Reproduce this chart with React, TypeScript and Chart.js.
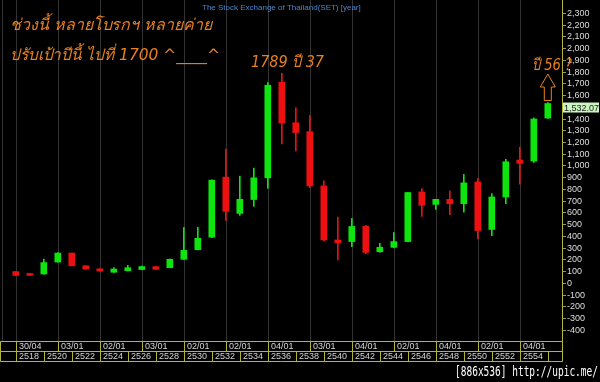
import React, { useEffect, useRef } from 'react';
import { Chart, registerables } from 'chart.js';
Chart.register(...registerables);

// Buddhist-era years, one yearly candle each
const years = [2518, 2519, 2520, 2521, 2522, 2523, 2524, 2525, 2526, 2527, 2528, 2529, 2530, 2531, 2532, 2533, 2534, 2535, 2536, 2537, 2538, 2539, 2540, 2541, 2542, 2543, 2544, 2545, 2546, 2547, 2548, 2549, 2550, 2551, 2552, 2553, 2554, 2555, 2556];
const opens = [100, 84, 80, 182, 258, 150, 124, 95, 108, 118, 142, 134, 205, 287, 393, 905, 596, 714, 899, 1714, 1368, 1293, 830, 370, 356, 487, 270, 307, 356, 779, 673, 716, 679, 864, 459, 736, 1051, 1042, 1408];
const highs = [100, 84, 207, 262, 258, 150, 124, 135, 153, 148, 145, 208, 476, 478, 882, 1145, 913, 982, 1711, 1789, 1496, 1430, 873, 564, 553, 493, 341, 433, 776, 808, 716, 787, 928, 894, 765, 1057, 1160, 1410, 1540];
const lows = [68, 68, 78, 180, 148, 120, 103, 92, 106, 116, 118, 132, 203, 285, 390, 536, 579, 656, 810, 1188, 1128, 815, 360, 199, 313, 253, 264, 302, 354, 570, 630, 585, 607, 379, 407, 679, 845, 1030, 1405];
const closes = [68, 68, 177, 258, 150, 122, 105, 122, 133, 143, 120, 205, 281, 384, 879, 613, 716, 899, 1688, 1365, 1285, 830, 370, 345, 485, 264, 307, 356, 774, 665, 716, 679, 856, 450, 736, 1036, 1022, 1400, 1532.07];

const yTicks = [-400, -300, -200, -100, 0, 100, 200, 300, 400, 500, 600, 700, 800, 900, 1000, 1100, 1200, 1300, 1400, 1500, 1600, 1700, 1800, 1900, 2000, 2100, 2200, 2300];
const gridYears = [2518, 2521, 2524, 2527, 2530, 2533, 2536, 2539, 2542, 2545, 2548, 2551, 2554];
const dateLabels = ['30/04', '03/01', '02/01', '03/01', '02/01', '02/01', '04/01', '03/01', '04/01', '02/01', '04/01', '02/01', '04/01'];
const yearLabels = [2518, 2520, 2522, 2524, 2526, 2528, 2530, 2532, 2534, 2536, 2538, 2540, 2542, 2544, 2546, 2548, 2550, 2552, 2554, 2556];
const lastPrice = 1532.07;
const title = 'The Stock Exchange of Thailand(SET) [year]';
const note1 = 'ช่วงนี้ หลายโบรกฯ หลายค่าย';
const note2 = 'ปรับเป้าปีนี้ ไปที่ 1700 ^____^';
const notePeak = '1789 ปี 37';
const noteNow = 'ปี 56 ?';
const watermark = '[886x536] http://upic.me/';

const GREEN = '#0ee40e';
const RED = '#ee1010';
const ORANGE = '#e8801f';
const OLIVE = '#b4b43a';

export default function App() {
  const ref = useRef<HTMLCanvasElement>(null);
  useEffect(() => {
    document.body.style.margin = '0';
    document.body.style.background = '#000';
    const bodies = years.map((yr, i) => ({ x: yr, y: [opens[i], closes[i]] }));
    const wicks = years.map((yr, i) => ({ x: yr, y: [lows[i], highs[i]] }));
    const colors = years.map((_, i) => (closes[i] >= opens[i] ? GREEN : RED));

    const overlay = {
      id: 'overlay',
      beforeDraw(chart: any) {
        const ctx = chart.ctx;
        ctx.save();
        ctx.fillStyle = '#000';
        ctx.fillRect(0, 0, chart.width, chart.height);
        ctx.restore();
      },
      beforeDatasetsDraw(chart: any) {
        const ctx = chart.ctx;
        const xs = chart.scales.x;
        const area = chart.chartArea;
        ctx.save();
        ctx.strokeStyle = '#333333';
        ctx.lineWidth = 1;
        const lines = [area.left + 0.5, ...gridYears.map((g) => Math.round(xs.getPixelForValue(g)) + 0.5)];
        lines.forEach((x) => {
          ctx.beginPath();
          ctx.moveTo(x, area.top);
          ctx.lineTo(x, area.bottom);
          ctx.stroke();
        });
        ctx.restore();
      },
      afterDraw(chart: any) {
        const ctx = chart.ctx;
        const xs = chart.scales.x;
        const ys = chart.scales.y;
        const area = chart.chartArea;
        ctx.save();
        // bottom date / year boxes
        const top = Math.round(area.bottom) + 0.5;
        const mid = top + 10;
        const bot = mid + 10;
        const right = Math.round(area.right) + 0.5;
        ctx.strokeStyle = OLIVE;
        ctx.lineWidth = 1;
        [top, mid, bot].forEach((y) => {
          ctx.beginPath();
          ctx.moveTo(0.5, y);
          ctx.lineTo(right, y);
          ctx.stroke();
        });
        const vline = (x: number, y0: number, y1: number) => {
          ctx.beginPath();
          ctx.moveTo(x, y0);
          ctx.lineTo(x, y1);
          ctx.stroke();
        };
        vline(0.5, top, bot);
        vline(right, top, bot);
        ctx.font = '9px Arial, "Liberation Sans", sans-serif';
        ctx.fillStyle = '#d4d4d4';
        ctx.textBaseline = 'middle';
        ctx.textAlign = 'left';
        gridYears.forEach((g, i) => {
          const x = Math.round(xs.getPixelForValue(g)) + 0.5;
          vline(x, top, mid);
          ctx.fillText(dateLabels[i], x + 2.5, top + 5.5);
        });
        yearLabels.forEach((g) => {
          const x = Math.round(xs.getPixelForValue(g)) + 0.5;
          vline(x, mid, bot);
          if (g <= 2554) ctx.fillText(String(g), x + 2.5, mid + 5.5);
        });

        // last price tag
        const py = ys.getPixelForValue(lastPrice);
        ctx.fillStyle = '#ccf5c0';
        ctx.fillRect(area.right + 1, py - 1, 36, 10);
        ctx.fillStyle = '#1a1a1a';
        ctx.fillText('1,532.07', area.right + 2, py + 4.5);

        // title
        ctx.font = '8px Arial, "Liberation Sans", sans-serif';
        ctx.fillStyle = '#4a86d0';
        ctx.textBaseline = 'alphabetic';
        ctx.fillText(title, 202, 10, 160);

        // annotations
        ctx.fillStyle = ORANGE;
        ctx.font = 'italic 16px Tahoma, "DejaVu Sans", "Noto Sans", sans-serif';
        ctx.fillText(note1, 10, 30, 202);
        ctx.fillText(note2, 10, 60, 210);
        ctx.fillText(notePeak, 251, 67, 73);
        ctx.fillText(noteNow, 532, 70, 40);

        // hollow up arrow above the last candle
        const ax = xs.getPixelForValue(2556);
        ctx.strokeStyle = ORANGE;
        ctx.beginPath();
        ctx.moveTo(ax, 74);
        ctx.lineTo(ax + 7.5, 87);
        ctx.lineTo(ax + 3.5, 87);
        ctx.lineTo(ax + 3.5, 100.5);
        ctx.lineTo(ax - 3.5, 100.5);
        ctx.lineTo(ax - 3.5, 87);
        ctx.lineTo(ax - 7.5, 87);
        ctx.closePath();
        ctx.stroke();

        // watermark
        ctx.fillStyle = '#ffffff';
        ctx.font = '14px "DejaVu Sans Mono", monospace';
        ctx.fillText(watermark, 455, 376, 143);
        ctx.restore();
      },
    };

    const chart = new Chart(ref.current as HTMLCanvasElement, {
      type: 'bar',
      data: {
        datasets: [
          { data: bodies as any, backgroundColor: colors, barThickness: 6, grouped: false, borderWidth: 0 } as any,
          { data: wicks as any, backgroundColor: colors, barThickness: 1, grouped: false, borderWidth: 0 } as any,
        ],
      },
      options: {
        responsive: false,
        animation: false,
        maintainAspectRatio: false,
        layout: { padding: { left: 2, right: 0, top: 0, bottom: 41 } },
        plugins: { legend: { display: false }, tooltip: { enabled: false }, title: { display: false } },
        scales: {
          x: { type: 'linear', display: false, offset: false, grid: { offset: false }, min: 2517.014, max: 2557.014 },
          y: {
            position: 'right',
            min: -491,
            max: 2414,
            afterBuildTicks: (s: any) => {
              s.ticks = yTicks.map((v) => ({ value: v }));
            },
            afterFit: (s: any) => {
              s.width = 38;
              s.paddingTop = 0;
              s.paddingBottom = 0;
            },
            grid: { drawOnChartArea: false, color: '#9a9a40', tickLength: 4 },
            border: { color: OLIVE },
            ticks: {
              color: '#dedede',
              padding: 1,
              autoSkip: false,
              font: { family: 'Arial, "Liberation Sans", sans-serif', size: 9 },
              callback: (v: any) => Number(v).toLocaleString('en-US'),
            },
          },
        },
      } as any,
      plugins: [overlay],
    });
    return () => chart.destroy();
  }, []);
  return (
    <div style={{ position: 'fixed', left: 0, top: 0, width: 600, height: 382, background: '#000' }}>
      <canvas ref={ref} width={600} height={382} style={{ display: 'block' }} />
    </div>
  );
}
